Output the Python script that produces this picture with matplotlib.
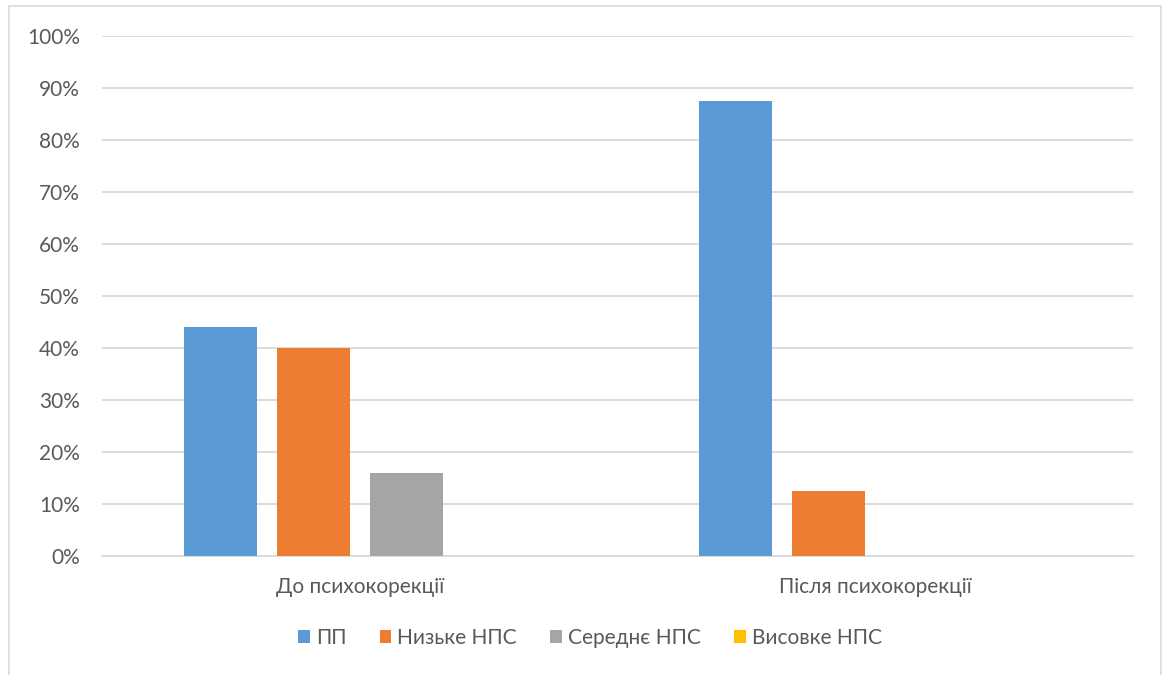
import matplotlib
matplotlib.use("Agg")
import matplotlib.pyplot as plt
from matplotlib.patches import Rectangle
from matplotlib.ticker import PercentFormatter
import numpy as np

plt.rcParams['font.family'] = ['Lato', 'DejaVu Sans']

categories = ["До психокорекції", "Після психокорекції"]
series_names = ["ПП", "Низьке НПС", "Середнє НПС", "Висовке НПС"]
pp = [44.0, 87.5]
low = [40.0, 12.5]
mid = [16.0, 0.0]
high = [0.0, 0.0]
colors = ["#5b9bd5", "#ed7d31", "#a5a5a5", "#ffc000"]

W, H = 1168, 675
fig = plt.figure(figsize=(W / 100, H / 100), dpi=100)
fig.patch.set_facecolor("white")

# outer chart frame
fig.add_artist(Rectangle((9 / W, -0.01), (1161 - 9) / W, 1.01 - 6 / H,
                         transform=fig.transFigure, fill=False,
                         edgecolor="#d9d9d9", linewidth=1.2))

ax = fig.add_axes([102 / W, 1 - 556 / H, (1133 - 102) / W, (556 - 36) / H])

x = np.arange(len(categories))
bar_w = 0.1416
step = 0.1804
values = [pp, low, mid, high]
for i, (vals, name, c) in enumerate(zip(values, series_names, colors)):
    offset = (i - 1.5) * step
    ax.bar(x + offset, vals, width=bar_w, color=c, label=name, zorder=3)

ax.set_xlim(-0.5, 1.5)
ax.set_ylim(0, 100)
ax.set_yticks(np.arange(0, 101, 10))
ax.yaxis.set_major_formatter(PercentFormatter(decimals=0))
ax.set_xticks(x)
ax.set_xticklabels(categories)
ax.grid(axis="y", color="#d9d9d9", linewidth=1.3, zorder=0)
for s in ["top", "right", "left"]:
    ax.spines[s].set_visible(False)
ax.spines["bottom"].set_color("#d9d9d9")
ax.spines["bottom"].set_linewidth(1.3)
ax.tick_params(axis="both", length=0, labelsize=15, labelcolor="#595959")
ax.tick_params(axis="y", pad=16)
ax.tick_params(axis="x", pad=15)

handles, labels = ax.get_legend_handles_labels()
fig.legend(handles, labels, loc="center", bbox_to_anchor=(590 / W, 1 - 638 / H),
           ncol=4, frameon=False, fontsize=15, labelcolor="#595959",
           handlelength=0.55, handleheight=0.55, handletextpad=0.3,
           columnspacing=1.6)

fig.savefig("out.png", dpi=100, facecolor="white")
